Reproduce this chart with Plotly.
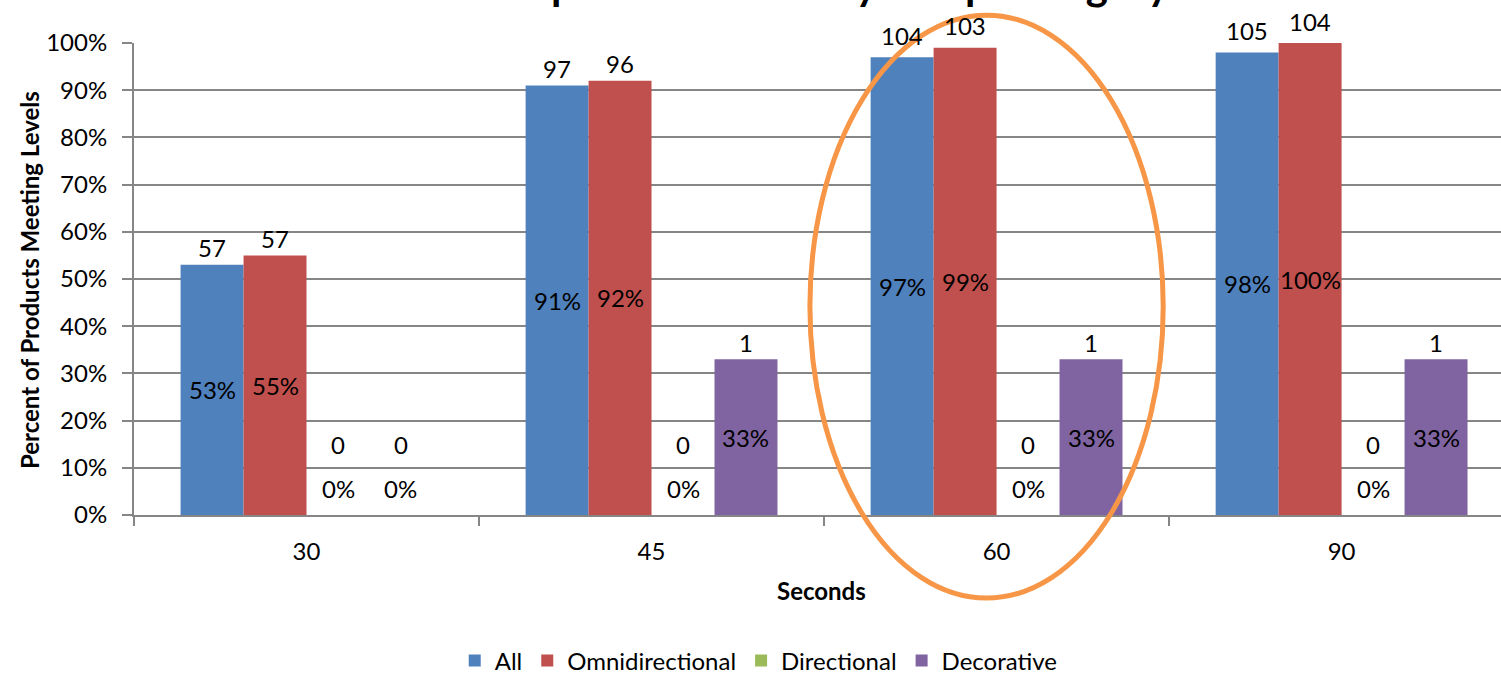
import plotly.graph_objects as go

# Run-up time results: share of products meeting levels, by lamp category
categories = ["30", "45", "60", "90"]
series_names = ["All", "Omnidirectional", "Directional", "Decorative"]

pct_all = [53, 91, 97, 98]
pct_omni = [55, 92, 99, 100]
pct_dir = [0, 0, 0, 0]
pct_deco = [0, 33, 33, 33]

count_all = [57, 97, 104, 105]
count_omni = [57, 96, 103, 104]
count_dir = [0, 0, 0, 0]
count_deco = [0, 1, 1, 1]

y_tick_values = [0, 10, 20, 30, 40, 50, 60, 70, 80, 90, 100]
y_tick_labels = [f"{v}%" for v in y_tick_values]

colors = ["#4F81BD", "#C0504D", "#9BBB59", "#8064A2"]
pct_series = [pct_all, pct_omni, pct_dir, pct_deco]
count_series = [count_all, count_omni, count_dir, count_deco]

FONT = "Lato"
GRID = "#868686"
BARGAP = 0.27
LABEL_SIZE = 24

fig = go.Figure()
for name, vals, col in zip(series_names, pct_series, colors):
    fig.add_trace(go.Bar(
        name=name, x=categories, y=vals, marker=dict(color=col, line=dict(width=0)),
        hoverinfo="skip",
    ))

# data labels: percentage in the middle of each bar, product count above it
n = len(series_names)
bar_w = (1 - BARGAP) / n
label_font = dict(size=LABEL_SIZE, family=FONT, color="#000000")
annotations = []
for i, (pvals, cvals) in enumerate(zip(pct_series, count_series)):
    offset = (i - (n - 1) / 2) * bar_w
    for c, (p, cnt) in enumerate(zip(pvals, cvals)):
        x = c + offset
        if p > 0:
            annotations.append(dict(x=x, y=p / 2, text=f"{p}%", showarrow=False, font=label_font,
                                    xref="x", yref="y", yanchor="middle"))
            # labels near the top of the axis sit a little higher to stay clear
            lift = 17 if p < 95 else 22
            annotations.append(dict(x=x, y=p, text=str(cnt), showarrow=False, font=label_font,
                                    xref="x", yref="y", yanchor="middle", yshift=lift))
        else:
            annotations.append(dict(x=x, y=0, text=f"{p}%", showarrow=False, font=label_font,
                                    xref="x", yref="y", yanchor="middle", yshift=27))
            annotations.append(dict(x=x, y=0, text=str(cnt), showarrow=False, font=label_font,
                                    xref="x", yref="y", yanchor="middle", yshift=71))

annotations.append(dict(
    text="<b>Run-up Time Results by Lamp Category</b>", x=0.49, y=1.068,
    xref="paper", yref="paper", xanchor="center", yanchor="bottom",
    showarrow=False, font=dict(size=42, family=FONT, color="#000000")))
annotations.append(dict(
    text="<b>Percent of Products Meeting Levels</b>", x=-0.076, y=0.498,
    xref="paper", yref="paper", textangle=-90, showarrow=False,
    xanchor="center", yanchor="middle", font=dict(size=24, family=FONT, color="#000000")))
annotations.append(dict(
    text="<b>Seconds</b>", x=0.503, y=-0.159, xref="paper", yref="paper",
    showarrow=False, xanchor="center", yanchor="middle",
    font=dict(size=24, family=FONT, color="#000000")))

fig.update_layout(
    width=1501, height=675,
    margin=dict(l=134, r=0, t=43, b=160, autoexpand=False),
    paper_bgcolor="white", plot_bgcolor="white",
    barmode="group", bargap=BARGAP, bargroupgap=0,
    font=dict(family=FONT, size=22, color="#000000"),
    annotations=annotations,
    showlegend=True,
    legend=dict(orientation="h", x=0.457, xanchor="center",
                yref="container", y=0.021, yanchor="middle",
                font=dict(size=24, family=FONT), traceorder="normal", itemwidth=30),
    shapes=[dict(type="circle", xref="x", yref="paper",
                 x0=1.459, x1=2.483, y0=-0.176, y1=1.059,
                 line=dict(color="#F79646", width=5), layer="above")],
)

fig.update_xaxes(
    type="category", range=[-0.5, 3.462], tickson="boundaries",
    ticks="outside", ticklen=9, tickcolor=GRID, tickwidth=2,
    showline=True, linecolor=GRID, linewidth=2, showgrid=False,
    tickfont=dict(size=LABEL_SIZE, family=FONT), ticklabelstandoff=14, fixedrange=True,
)
fig.update_yaxes(
    range=[0, 100], tickvals=y_tick_values, ticktext=y_tick_labels,
    ticks="outside", ticklen=10, tickcolor=GRID, tickwidth=2,
    showline=True, linecolor=GRID, linewidth=2,
    showgrid=True, gridcolor=GRID, gridwidth=2, zeroline=False,
    tickfont=dict(size=LABEL_SIZE, family=FONT), ticklabelstandoff=10, fixedrange=True,
)

fig.write_html("out.html")
